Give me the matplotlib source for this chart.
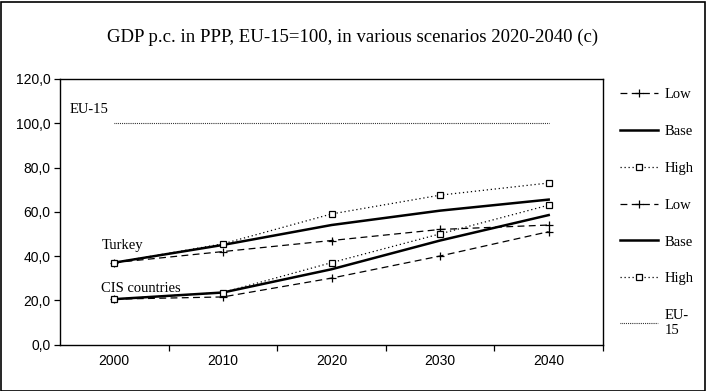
import matplotlib
matplotlib.use("Agg")
import matplotlib.pyplot as plt
from matplotlib.patches import Rectangle

years = ["2000", "2010", "2020", "2030", "2040"]
turkey_low = [37.0, 42.0, 47.0, 52.0, 54.0]
turkey_base = [37.0, 45.0, 54.0, 60.5, 65.5]
turkey_high = [37.0, 45.5, 59.0, 67.5, 73.0]
cis_low = [20.5, 21.5, 30.0, 40.0, 51.0]
cis_base = [20.5, 23.5, 34.0, 47.0, 58.5]
cis_high = [20.5, 23.5, 37.0, 50.0, 63.0]
eu15 = [100.0, 100.0, 100.0, 100.0, 100.0]
y_ticks = [0, 20, 40, 60, 80, 100, 120]
title = "GDP p.c. in PPP, EU-15=100, in various scenarios 2020-2040 (c)"

W, H = 706, 391
fig = plt.figure(figsize=(W / 100, H / 100), dpi=100)
fig.patch.set_facecolor("white")
fig.patches.append(Rectangle((0.5 / W, 0.5 / H), 1 - 2 / W, 1 - 2 / H, transform=fig.transFigure,
                             fill=False, edgecolor="black", linewidth=1.2))

left, right, top, bottom = 60, 603, 79, 344.5
ax = fig.add_axes([left / W, 1 - bottom / H, (right - left) / W, (bottom - top) / H])
x = list(range(len(years)))

serif = "Liberation Serif"
sans = "Liberation Sans"

dash = (0, (5.5, 3.5))
dot = (0, (1, 2.2))

def plot_group(low, base, high):
    h1, = ax.plot(x, low, color="black", lw=0.9, linestyle=dash, marker="+", ms=5.5, mew=0.9)
    h2, = ax.plot(x, base, color="black", lw=1.8, linestyle="-")
    h3, = ax.plot(x, high, color="black", lw=0.9, linestyle=dot, marker="s", ms=4.3,
                  mfc="white", mec="black", mew=0.9)
    return [h1, h2, h3]

hs = plot_group(turkey_low, turkey_base, turkey_high)
hs += plot_group(cis_low, cis_base, cis_high)
he, = ax.plot(x, eu15, color="black", lw=0.8, linestyle=(0, (0.7, 1.0)))
hs.append(he)

ax.set_xlim(-0.5, len(years) - 0.5)
ax.set_ylim(0, 120)
ax.set_yticks(y_ticks)
ax.set_yticklabels([f"{v:.1f}".replace(".", ",") for v in y_ticks], fontfamily=sans, fontsize=10)
ax.set_xticks(x)
ax.set_xticklabels(years, fontfamily=sans, fontsize=10)
ax.set_xticks([i + 0.5 for i in range(len(years))], minor=True)
ax.tick_params(axis="x", which="major", length=0, pad=7)
ax.tick_params(axis="x", which="minor", length=4, direction="out", width=0.9)
ax.tick_params(axis="y", length=4, direction="out", width=0.9, pad=3)
for s in ax.spines.values():
    s.set_linewidth(1.0)

ax.text(-0.41, 103.5, "EU-15", fontfamily=serif, fontsize=10.5, va="bottom")
ax.text(-0.12, 42, "Turkey", fontfamily=serif, fontsize=10.5, va="bottom")
ax.text(-0.12, 22.3, "CIS countries", fontfamily=serif, fontsize=10.5, va="bottom")

fig.text(0.5, 1 - 37 / H, title, ha="center", va="center", fontfamily=serif, fontsize=13.5)

labels = ["Low", "Base", "High", "Low", "Base", "High", "EU-\n15"]
leg = fig.legend(hs, labels, loc="upper left", bbox_to_anchor=(620 / W, 1 - 88 / H),
                 frameon=False, prop={"family": serif, "size": 10.5}, labelspacing=1.62,
                 handlelength=2.6, handletextpad=0.45, borderaxespad=0, borderpad=0)

fig.savefig("out.png", dpi=100)
